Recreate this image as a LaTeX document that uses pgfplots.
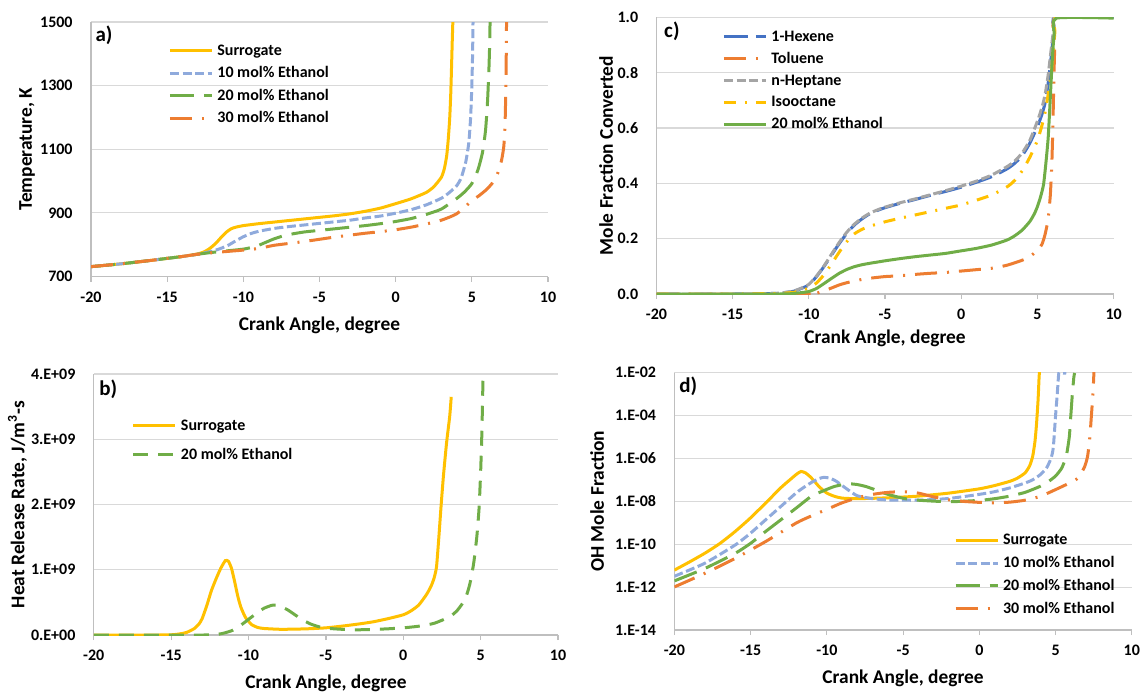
\documentclass[border=0pt]{standalone}
\usepackage{fontspec}
\setmainfont{Carlito}
\usepackage{pgfplots}
\pgfplotsset{compat=1.18}
\definecolor{cyel}{HTML}{FFC000}
\definecolor{clb}{HTML}{8FAADC}
\definecolor{cgr}{HTML}{70AD47}
\definecolor{cor}{HTML}{ED7D31}
\definecolor{cbl}{HTML}{4472C4}
\definecolor{cgy}{HTML}{A5A5A5}
\pgfplotsset{
 panel/.style={
  scale only axis, anchor=south west,
  axis x line=bottom, axis y line=left,
  axis line style={draw=black!25, line width=0.6pt, -},
  xmin=-20, xmax=10, xtick={-20,-15,-10,-5,0,5,10},
  xticklabels={-20,-15,-10,-5,0,5,10},
  ymajorgrids, grid style={draw=black!15, line width=0.6pt},
  tick align=outside, major tick length=2.5pt,
  x tick style={draw=black!25, line width=0.6pt},
  y tick style={draw=none}, minor tick num=0,
  ticklabel style={font=\bfseries\fontsize{8}{9}\selectfont},
  xticklabel style={anchor=north, inner sep=0pt, yshift=-5pt},
  yticklabel style={anchor=east, inner sep=0pt, xshift=-6.5pt},
  label style={font=\bfseries\fontsize{9.7}{11}\selectfont},
  xlabel={Crank Angle, degree},
  legend style={draw=none, fill=none, inner sep=0pt, anchor=north west,
    font=\bfseries\fontsize{8}{9}\selectfont,
    nodes={inner sep=0pt, text height=6pt, text depth=1.5pt},
    column sep=2pt},
  legend cell align=left,
  legend image code/.code={\draw[##1, sharp plot] (0pt,0pt) -- (21pt,0pt);},
 },
 lw/.style={line width=1.5pt, smooth, tension=0.35},
 sdash/.style={dash pattern=on 4.5pt off 1.8pt},
 ldash/.style={dash pattern=on 12pt off 5pt},
 ddot/.style={dash pattern=on 11pt off 5pt on 1pt off 5pt},
}
\begin{document}
\begin{tikzpicture}
\useasboundingbox (0,0) rectangle (571.5pt,346.5pt);
% ---------------- a)
\begin{axis}[panel, at={(45.5pt,208.25pt)}, width=228.5pt, height=127.25pt,
  ymin=700, ymax=1500, ytick={700,900,1100,1300,1500},
  yticklabels={700,900,1100,1300,1500},
  ylabel={Temperature, K},
  ylabel style={at={(axis description cs:-0.140,0.5)}, anchor=center},
  xlabel style={at={(axis description cs:0.5,-0.1906)}, anchor=center},
  legend style={at={(axis description cs:0.1685,0.9175)}, row sep=3.75pt}]
\addplot[cyel, lw] coordinates {(-20,731) (-18,740) (-16,751) (-15,757) (-14,763) (-13,771) (-12.6,777) (-12.3,785) (-12,796) (-11.7,810) (-11.4,826) (-11.1,840) (-10.8,850) (-10.5,855) (-10,860) (-9,866) (-8,871) (-7,876) (-6,881) (-5,886) (-4,891) (-3,897) (-2,905) (-1,915) (0,929) (1,944) (2,964) (2.5,982) (3,1012) (3.2,1040) (3.35,1080) (3.45,1130) (3.55,1200) (3.62,1280) (3.68,1380) (3.72,1450) (3.76,1510)};
\addlegendentry{Surrogate}
\addplot[clb, lw, sdash] coordinates {(-20,731) (-18,740) (-16,751) (-15,757) (-14,763) (-13,770) (-12.5,775) (-12,780) (-11.5,788) (-11,798) (-10.5,812) (-10,825) (-9.5,835) (-9,842) (-8,851) (-7,857) (-6,862) (-5,867) (-4,872) (-3,877) (-2,884) (-1,890) (0,899) (1,910) (2,925) (3,946) (3.5,963) (4,985) (4.3,1010) (4.6,1060) (4.8,1120) (4.92,1200) (5.0,1300) (5.05,1400) (5.08,1510)};
\addlegendentry{10 mol\% Ethanol}
\addplot[cgr, lw, ldash] coordinates {(-20,731) (-18,740) (-16,751) (-15,757) (-14,763) (-13,770) (-12,776) (-11,781) (-10,786) (-9.5,791) (-9,798) (-8.5,808) (-8,818) (-7.5,826) (-7,832) (-6,840) (-5,845) (-4,850) (-3,855) (-2,860) (-1,866) (0,873) (1,882) (2,895) (3,912) (4,945) (4.5,965) (5,992) (5.4,1035) (5.7,1090) (5.9,1160) (6.03,1250) (6.12,1350) (6.17,1430) (6.2,1510)};
\addlegendentry{20 mol\% Ethanol}
\addplot[cor, lw, ddot] coordinates {(-20,731) (-18,740) (-16,751) (-15,757) (-14,763) (-13,770) (-12,775) (-11,779) (-10,783) (-9,788) (-8.5,793) (-8,798) (-7,804) (-6,810) (-5,817) (-4,824) (-3,830) (-2,836) (-1,841) (0,847) (1,855) (2,865) (3,877) (4,897) (5,938) (5.5,955) (6,975) (6.4,997) (6.7,1025) (6.95,1065) (7.1,1110) (7.18,1180) (7.22,1260) (7.25,1350) (7.28,1510)};
\addlegendentry{30 mol\% Ethanol}
\node[anchor=west, inner sep=0pt, font=\bfseries\fontsize{10.5}{12}\selectfont] at (rel axis cs:0.009,0.949) {a)};
\end{axis}
% ---------------- c)
\begin{axis}[panel, at={(328.25pt,199.5pt)}, width=228.55pt, height=138.35pt,
  ymin=0, ymax=1, ytick={0,0.2,0.4,0.6,0.8,1},
  yticklabels={0.0,0.2,0.4,0.6,0.8,1.0},
  ylabel={Mole Fraction Converted},
  ylabel style={at={(axis description cs:-0.1105,0.5)}, anchor=center},
  xlabel style={at={(axis description cs:0.5,-0.159)}, anchor=center},
  legend style={at={(axis description cs:0.1433,0.9577)}, row sep=3.4pt}]
\addplot[cbl, lw, dash pattern=on 12pt off 4pt] coordinates {(-20,0) (-15,0) (-13,0.001) (-12,0.003) (-11.5,0.006) (-11,0.01) (-10.5,0.02) (-10,0.033) (-9.5,0.063) (-9,0.10) (-8.5,0.142) (-8,0.183) (-7.5,0.22) (-7,0.25) (-6.5,0.272) (-6,0.29) (-5.5,0.302) (-5,0.312) (-4,0.328) (-3,0.342) (-2,0.357) (-1,0.371) (0,0.386) (1,0.404) (2,0.424) (3,0.452) (3.5,0.472) (4,0.5) (4.5,0.545) (5,0.605) (5.3,0.65) (5.5,0.69) (5.7,0.76) (5.85,0.83) (6.0,0.91) (6.1,0.96) (6.2,1.0) (10,1.0)};
\addlegendentry{1-Hexene}
\addplot[cor, lw, ddot] coordinates {(-20,0) (-10,0) (-9.5,0.003) (-9,0.012) (-8.5,0.022) (-8,0.033) (-7.5,0.041) (-7,0.047) (-6.5,0.053) (-6,0.057) (-5,0.063) (-4,0.066) (-3,0.071) (-2,0.075) (-1,0.078) (0,0.083) (1,0.088) (2,0.093) (3,0.104) (4,0.122) (4.5,0.135) (5,0.158) (5.3,0.18) (5.5,0.215) (5.7,0.27) (5.85,0.36) (5.95,0.48) (6.02,0.62) (6.08,0.78) (6.14,0.9) (6.2,1.0) (10,1.0)};
\addlegendentry{Toluene}
\addplot[cgy, lw, sdash] coordinates {(-20,0) (-15,0) (-13,0.001) (-12,0.003) (-11.5,0.006) (-11,0.011) (-10.5,0.021) (-10,0.035) (-9.5,0.065) (-9,0.102) (-8.5,0.145) (-8,0.187) (-7.5,0.224) (-7,0.253) (-6.5,0.275) (-6,0.292) (-5.5,0.304) (-5,0.314) (-4,0.33) (-3,0.344) (-2,0.359) (-1,0.374) (0,0.39) (1,0.408) (2,0.43) (3,0.46) (3.5,0.48) (4,0.51) (4.5,0.555) (5,0.625) (5.3,0.675) (5.5,0.72) (5.7,0.79) (5.85,0.86) (6.0,0.93) (6.1,0.97) (6.18,1.0) (10,1.0)};
\addlegendentry{n-Heptane}
\addplot[cyel, lw, dash pattern=on 6pt off 4.5pt on 1pt off 4.5pt] coordinates {(-20,0) (-15,0) (-12,0.002) (-11,0.006) (-10.5,0.012) (-10,0.022) (-9.5,0.04) (-9,0.07) (-8.5,0.11) (-8,0.152) (-7.5,0.19) (-7,0.218) (-6.5,0.234) (-6,0.245) (-5,0.261) (-4,0.274) (-3,0.286) (-2,0.298) (-1,0.31) (0,0.322) (1,0.339) (2,0.358) (3,0.387) (3.5,0.41) (4,0.445) (4.5,0.494) (5,0.555) (5.3,0.61) (5.5,0.655) (5.7,0.72) (5.9,0.79) (6.05,0.88) (6.15,0.95) (6.22,1.0) (10,1.0)};
\addlegendentry{Isooctane}
\addplot[cgr, lw] coordinates {(-20,0) (-12,0) (-11,0.002) (-10.5,0.005) (-10,0.009) (-9.5,0.02) (-9,0.038) (-8.5,0.057) (-8,0.075) (-7.5,0.089) (-7,0.099) (-6.5,0.106) (-6,0.111) (-5,0.12) (-4,0.128) (-3,0.135) (-2,0.141) (-1,0.147) (0,0.156) (1,0.165) (2,0.177) (3,0.195) (3.5,0.21) (4,0.231) (4.5,0.262) (4.8,0.29) (5,0.316) (5.2,0.35) (5.4,0.395) (5.55,0.47) (5.7,0.56) (5.8,0.66) (5.9,0.77) (6.0,0.87) (6.1,0.94) (6.25,0.997) (10,0.997)};
\addlegendentry{20 mol\% Ethanol}
\node[anchor=west, inner sep=0pt, font=\bfseries\fontsize{10.5}{12}\selectfont] at (rel axis cs:0.016,0.948) {c)};
\end{axis}
% ---------------- b)
\begin{axis}[panel, at={(46.9pt,29pt)}, width=232.1pt, height=130.5pt,
  ymin=0, ymax=4e9, ytick={0,1e9,2e9,3e9,4e9}, scaled y ticks=false,
  yticklabels={0.E+00,1.E+09,2.E+09,3.E+09,4.E+09},
  ylabel={Heat Release Rate, J/m\textsuperscript{3}-s},
  ylabel style={at={(axis description cs:-0.1644,0.5)}, anchor=center},
  xlabel style={at={(axis description cs:0.5,-0.184)}, anchor=center},
  legend style={at={(axis description cs:0.0814,0.8314)}, row sep=7pt}]
\addplot[cyel, lw] coordinates {(-20,0) (-16,0) (-15,0.003e9) (-14.5,0.015e9) (-14,0.04e9) (-13.5,0.1e9) (-13.2,0.17e9) (-13,0.25e9) (-12.7,0.45e9) (-12.4,0.68e9) (-12.1,0.86e9) (-11.8,1.02e9) (-11.5,1.14e9) (-11.3,1.13e9) (-11.1,1.02e9) (-10.9,0.82e9) (-10.7,0.6e9) (-10.5,0.43e9) (-10.2,0.27e9) (-9.8,0.16e9) (-9.4,0.115e9) (-9,0.1e9) (-8,0.088e9) (-7,0.09e9) (-6,0.097e9) (-5,0.11e9) (-4,0.135e9) (-3,0.165e9) (-2,0.2e9) (-1,0.25e9) (0,0.31e9) (0.5,0.37e9) (1,0.46e9) (1.5,0.62e9) (1.8,0.75e9) (2.0,0.88e9) (2.15,1.05e9) (2.3,1.5e9) (2.45,2.0e9) (2.6,2.45e9) (2.8,2.95e9) (3.0,3.35e9) (3.1,3.65e9)};
\addlegendentry{Surrogate}
\addplot[cgr, lw, dash pattern=on 7.5pt off 5pt] coordinates {(-20,0) (-13,0) (-12,0.01e9) (-11.5,0.035e9) (-11,0.075e9) (-10.5,0.15e9) (-10,0.24e9) (-9.5,0.33e9) (-9,0.41e9) (-8.5,0.455e9) (-8.2,0.46e9) (-8,0.445e9) (-7.5,0.39e9) (-7,0.31e9) (-6.5,0.23e9) (-6,0.17e9) (-5.5,0.13e9) (-5,0.105e9) (-4,0.088e9) (-3,0.08e9) (-2,0.085e9) (-1,0.095e9) (0,0.11e9) (1,0.135e9) (2,0.18e9) (3,0.28e9) (3.5,0.38e9) (4,0.55e9) (4.3,0.78e9) (4.55,1.1e9) (4.75,1.5e9) (4.9,1.95e9) (5.0,2.5e9) (5.08,3.1e9) (5.15,3.9e9)};
\addlegendentry{20 mol\% Ethanol}
\node[anchor=west, inner sep=0pt, font=\bfseries\fontsize{10.5}{12}\selectfont] at (rel axis cs:0.011,0.941) {b)};
\end{axis}
% ---------------- d)
\begin{axis}[panel, at={(337.2pt,31.5pt)}, width=228.7pt, height=128.75pt,
  ymode=log, ymin=1e-14, ymax=1e-2,
  ytick={1e-14,1e-12,1e-10,1e-8,1e-6,1e-4,1e-2},
  yticklabels={1.E-14,1.E-12,1.E-10,1.E-08,1.E-06,1.E-04,1.E-02},
  ylabel={OH Mole Fraction},
  ylabel style={at={(axis description cs:-0.169,0.5)}, anchor=center},
  xlabel style={at={(axis description cs:0.5,-0.186)}, anchor=center},
  legend style={at={(axis description cs:0.6104,0.3794)}, row sep=3.9pt}]
\addplot[cyel, lw] coordinates {(-20,6.2e-12) (-19,1.5e-11) (-18,3.8e-11) (-17,1.1e-10) (-16,4.0e-10) (-15,1.7e-9) (-14,8.5e-9) (-13,4.4e-8) (-12.5,9e-8) (-12,1.8e-7) (-11.7,2.45e-7) (-11.4,2.1e-7) (-11.1,1.4e-7) (-10.8,8.3e-8) (-10.5,4.7e-8) (-10,2.4e-8) (-9.5,1.7e-8) (-9,1.4e-8) (-8,1.32e-8) (-6,1.45e-8) (-4,1.74e-8) (-2,2.4e-8) (0,3.8e-8) (1,5.4e-8) (2,8.5e-8) (2.5,1.2e-7) (3,2.1e-7) (3.3,4.5e-7) (3.5,1.26e-6) (3.65,6.3e-6) (3.75,4e-5) (3.85,5e-4) (3.92,6.3e-3) (3.95,1.2e-2)};
\addlegendentry{Surrogate}
\addplot[clb, lw, sdash] coordinates {(-20,3.2e-12) (-18,1.3e-11) (-16,9.3e-11) (-15,3.3e-10) (-14,1.4e-9) (-13,5.9e-9) (-12,2.5e-8) (-11.5,4.5e-8) (-11,7.6e-8) (-10.5,1.15e-7) (-10.2,1.3e-7) (-9.8,1.2e-7) (-9.4,8.7e-8) (-9,5.4e-8) (-8.5,3.0e-8) (-8,1.8e-8) (-7,1.32e-8) (-6,1.15e-8) (-4,1.12e-8) (-2,1.35e-8) (0,2.1e-8) (1,2.8e-8) (2,4.2e-8) (3,7.1e-8) (3.5,1e-7) (4,1.74e-7) (4.4,3.5e-7) (4.7,1e-6) (4.85,3.2e-6) (5.0,1e-4) (5.1,8e-4) (5.2,8e-3) (5.25,0.0093) (5.7,0.0093)};
\addlegendentry{10 mol\% Ethanol}
\addplot[cgr, lw, ldash] coordinates {(-20,1.95e-12) (-18,7.4e-12) (-16,3.8e-11) (-15,1.1e-10) (-14,4e-10) (-13,1.4e-9) (-12,4.9e-9) (-11,1.74e-8) (-10,3.6e-8) (-9.5,4.9e-8) (-9,5.9e-8) (-8.5,6.5e-8) (-8,6e-8) (-7.5,5e-8) (-7,3.8e-8) (-6,2.1e-8) (-5,1.38e-8) (-4,1.12e-8) (-2,9.5e-9) (0,1.1e-8) (1,1.32e-8) (2,1.74e-8) (3,2.6e-8) (4,5e-8) (4.5,8e-8) (5,1.5e-7) (5.4,3.5e-7) (5.7,1.26e-6) (5.9,1e-5) (6.0,1e-4) (6.1,1e-3) (6.2,6.3e-3) (6.25,0.0095)};
\addlegendentry{20 mol\% Ethanol}
\addplot[cor, lw, ddot] coordinates {(-20,1.02e-12) (-18,4.4e-12) (-16,2.2e-11) (-14,1.35e-10) (-12,9.8e-10) (-11,2.1e-9) (-10,4.2e-9) (-9,8.5e-9) (-8,1.45e-8) (-7,2.1e-8) (-6,2.6e-8) (-5,2.8e-8) (-4,2.4e-8) (-3,1.6e-8) (-2,1.17e-8) (-1,9.8e-9) (0,8.9e-9) (1,8.5e-9) (2,9.1e-9) (3,1.12e-8) (4,1.7e-8) (5,3.5e-8) (6,7.6e-8) (6.5,1.26e-7) (6.9,4e-7) (7.1,1.26e-6) (7.25,1e-5) (7.35,1e-4) (7.45,1e-3) (7.52,1.2e-2)};
\addlegendentry{30 mol\% Ethanol}
\node[anchor=west, inner sep=0pt, font=\bfseries\fontsize{10.5}{12}\selectfont] at (rel axis cs:0.010,0.945) {d)};
\end{axis}
\end{tikzpicture}
\end{document}
